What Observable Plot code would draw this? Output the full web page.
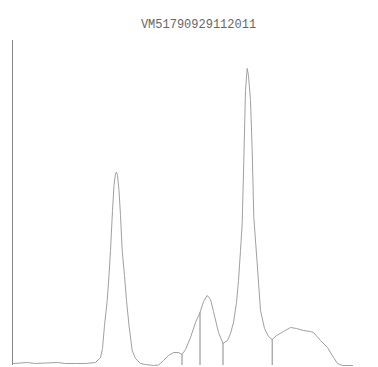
<!DOCTYPE html>
<html>
<head>
<meta charset="utf-8">
<script src="https://cdn.jsdelivr.net/npm/d3@7"></script>
<script src="https://cdn.jsdelivr.net/npm/@observablehq/plot@0.6"></script>
<style>
  html, body { margin: 0; padding: 0; background: #fff; }
</style>
</head>
<body>
<div id="chart"></div>
<script>
const title = "VM51790929112011";

// retention time (arbitrary units)
const time = [
  0.1, 0.8, 1.5, 2.3, 3.3, 4.5, 5.3, 6.3, 7.3, 8.3,
  8.8, 9.0, 9.2, 9.47, 9.65, 9.8, 10.0, 10.15, 10.3, 10.4,
  10.5, 10.65, 10.8, 10.97, 11.2, 11.4, 11.65, 11.97, 12.3, 12.8,
  13.3, 14.1, 14.6, 15.1, 15.6, 16.1, 16.6, 16.95, 17.3, 17.8,
  18.3, 18.75, 19.1, 19.47, 19.8, 20.1, 20.6, 21.05, 21.5, 21.8,
  22.1, 22.4, 22.6, 22.8, 22.97, 23.13, 23.3, 23.47, 23.6, 23.8,
  23.97, 24.13, 24.47, 24.8, 25.2, 25.6, 25.97, 26.4, 27.1, 27.8,
  28.4, 29.1, 29.8, 30.1, 30.8, 31.5, 32.1, 32.5, 33.0, 34.0
];
// detector signal (arbitrary units)
const signal = [
  2, 2.5, 3, 2, 2.5, 3, 2, 2, 2, 3,
  8, 17, 40, 65, 90, 115, 155, 180, 192, 193.5,
  190, 175, 150, 115, 90, 65, 40, 15, 7, 2,
  1, 0, 0.5, 5, 10, 13, 13, 11, 16, 28,
  43, 53, 64, 70, 66, 54, 33, 22, 25, 32,
  43, 63, 85, 115, 142, 205, 275, 297, 290, 265,
  215, 148, 102, 55, 37, 29, 26, 30, 34, 38,
  37, 35, 34, 33, 25, 18, 8, 2, 0, 0
];
// valley / split drop lines
const dropTime = [16.95, 18.75, 21.05, 25.97];
const dropSignal = [11, 53, 22, 26];

const data = time.map((t, i) => ({t, s: signal[i]}));
const drops = dropTime.map((t, i) => ({t, s: dropSignal[i]}));

const chart = Plot.plot({
  width: 378,
  height: 367,
  marginLeft: 12,
  marginRight: 26,
  marginTop: 40,
  marginBottom: 2,
  x: {domain: [0, 34], axis: null},
  y: {domain: [0, 325], axis: null},
  style: {background: "#fff"},
  marks: [
    Plot.ruleX([0], {stroke: "#888", strokeWidth: 1}),
    Plot.ruleX(drops, {x: "t", y1: 0, y2: "s", stroke: "#888", strokeWidth: 1}),
    Plot.line(data, {x: "t", y: "s", stroke: "#a0a0a0", strokeWidth: 1, curve: "linear"}),
    Plot.text([title], {
      frameAnchor: "top", dy: -21, dx: 16,
      fontFamily: "Liberation Mono", fontSize: 12, fill: "#666"
    })
  ]
});
document.getElementById("chart").append(chart);
</script>
</body>
</html>
